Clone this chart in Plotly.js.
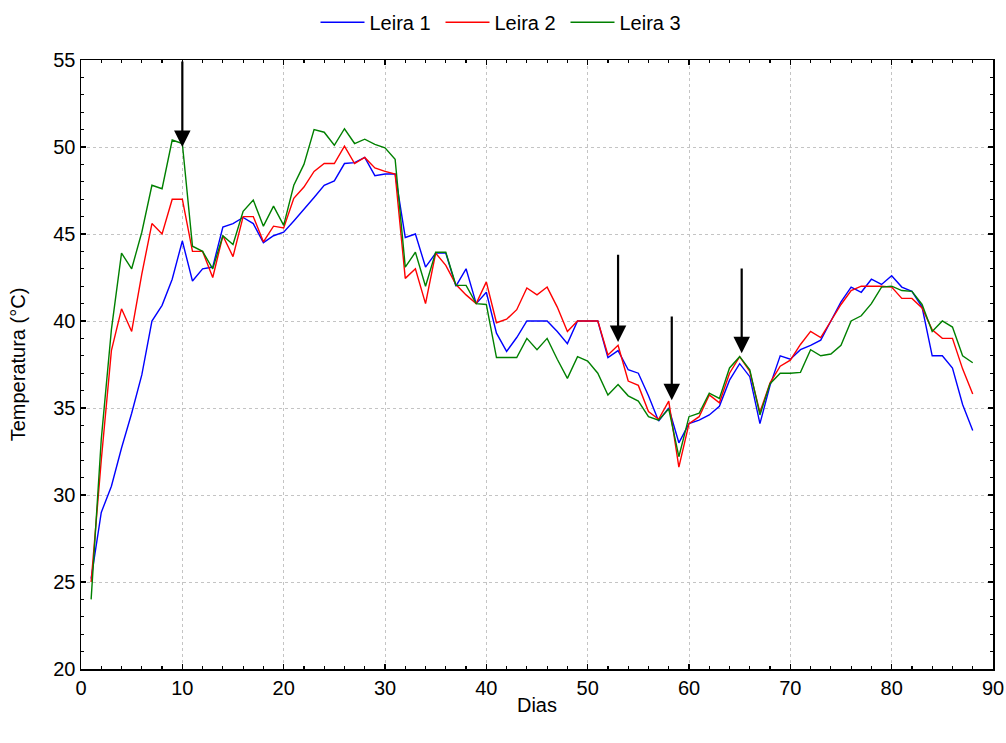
<!DOCTYPE html>
<html>
<head>
<meta charset="utf-8">
<script src="https://cdn.plot.ly/plotly-3.0.1.min.js"></script>
<style>html,body{margin:0;padding:0;background:#fff;}#chart{width:1006px;height:743px;}</style>
</head>
<body>
<div id="chart"></div>
<script>
// Days (x axis)
const dias = [1,2,3,4,5,6,7,8,9,10,11,12,13,14,15,16,17,18,19,20,21,22,23,24,25,26,27,28,29,30,
  31,32,33,34,35,36,37,38,39,40,41,42,43,44,45,46,47,48,49,50,51,52,53,54,55,56,57,58,59,60,
  61,62,63,64,65,66,67,68,69,70,71,72,73,74,75,76,77,78,79,80,81,82,83,84,85,86,87,88];

// Leira 1 temperatures (°C)
const leira1 = [25.2,29.0,30.5,32.7,34.7,36.9,40.0,40.9,42.4,44.6,42.3,43.0,43.1,45.4,45.6,45.95,45.6,44.5,44.9,45.1,
  45.75,46.4,47.1,47.8,48.05,49.05,49.1,49.4,48.35,48.45,48.45,44.8,45.0,43.1,43.9,43.9,42.0,43.0,41.0,41.65,
  39.3,38.25,39.05,40.0,40.0,40.0,39.4,38.7,40.0,40.0,40.0,37.9,38.3,37.2,37.0,35.7,34.25,35.0,33.0,34.1,
  34.3,34.6,35.1,36.6,37.55,36.8,34.1,36.3,38.0,37.8,38.35,38.6,38.9,40.0,41.1,41.95,41.65,42.4,42.1,42.6,
  41.95,41.7,40.8,38.0,38.0,37.3,35.2,33.7];

// Leira 2 temperatures (°C)
const leira2 = [25.0,32.0,38.3,40.7,39.4,42.7,45.6,45.0,47.0,47.0,44.0,44.0,42.5,44.9,43.7,46.0,46.0,44.55,45.45,45.35,
  47.05,47.7,48.6,49.05,49.05,50.05,49.05,49.4,48.8,48.6,48.45,42.45,43.0,41.0,43.9,43.2,42.1,41.5,41.0,42.25,
  39.9,40.1,40.65,41.9,41.5,41.95,40.8,39.4,40.0,40.0,40.0,38.05,38.6,36.55,36.3,34.8,34.35,35.4,31.6,34.1,
  34.5,35.75,35.3,37.0,37.95,37.1,34.75,36.45,37.4,37.75,38.65,39.4,39.05,40.0,40.95,41.75,42.0,42.0,42.0,41.95,
  41.3,41.3,40.75,39.5,39.0,39.0,37.25,35.8];

// Leira 3 temperatures (°C)
const leira3 = [24.0,33.2,39.5,43.9,43.0,45.1,47.8,47.6,50.4,50.2,44.3,44.0,43.0,44.9,44.4,46.3,46.95,45.45,46.6,45.5,
  47.8,49.0,51.0,50.85,50.1,51.05,50.2,50.45,50.15,49.95,49.3,43.1,43.95,42.0,43.95,43.95,42.05,42.05,41.0,40.95,
  37.9,37.9,37.9,39.0,38.35,39.0,37.8,36.7,37.95,37.7,37.0,35.75,36.35,35.7,35.4,34.5,34.3,34.95,32.2,34.5,
  34.7,35.85,35.55,37.3,37.95,37.2,34.6,36.4,37.0,37.0,37.05,38.35,38.0,38.1,38.6,40.0,40.3,41.0,41.95,42.0,
  41.75,41.7,40.95,39.4,40.0,39.65,38.0,37.6];

// Arrows marking events: day, tail temperature, tip temperature
const arrowDays = [10, 53, 58.3, 65.2];
const arrowTail = [55, 43.9, 40.35, 43.1];
const arrowTip  = [50.0, 38.8, 35.45, 38.15];

const seriesNames = ['Leira 1', 'Leira 2', 'Leira 3'];
const seriesData = [leira1, leira2, leira3];
const seriesColors = ['#0000ff', '#ff0000', '#008000'];

const FONT = '"Liberation Sans", Arial, sans-serif';
const FS = 20;

const traces = seriesData.map((ys, i) => ({
  x: dias, y: ys, type: 'scatter', mode: 'lines', name: seriesNames[i],
  line: {color: seriesColors[i], width: 1.4}
}));

const annotations = arrowDays.map((d, i) => ({
  x: d, y: arrowTip[i], ax: d, ay: arrowTail[i],
  xref: 'x', yref: 'y', axref: 'x', ayref: 'y',
  text: '', showarrow: true, arrowhead: 2, arrowsize: 1.5, arrowwidth: 2.2,
  arrowcolor: '#000', standoff: 0
}));

const axisCommon = {
  showline: true, linecolor: '#000', linewidth: 1.5, mirror: 'allticks',
  ticks: 'inside', ticklen: 5, tickcolor: '#000', tickwidth: 1.2,
  showgrid: true, gridcolor: '#c4c4c4', griddash: 'dot', gridwidth: 1,
  zeroline: false, tickfont: {family: FONT, size: FS, color: '#000'}
};

const layout = {
  width: 1006, height: 743,
  paper_bgcolor: '#fff', plot_bgcolor: '#fff',
  margin: {l: 81, r: 13, t: 60, b: 74, autoexpand: false},
  font: {family: FONT, size: FS, color: '#000'},
  showlegend: true,
  legend: {orientation: 'h', xref: 'container', x: 0.5, xanchor: 'center',
           yref: 'container', y: 0.970, yanchor: 'middle',
           itemwidth: 44, entrywidth: 66,
           font: {family: FONT, size: FS, color: '#000'}, bgcolor: 'rgba(0,0,0,0)'},
  xaxis: Object.assign({}, axisCommon, {
    range: [0, 90], dtick: 10, tick0: 0,
    minor: {dtick: 2, ticks: 'inside', ticklen: 3, tickcolor: '#000', showgrid: false},
    title: {text: 'Dias', font: {family: FONT, size: FS, color: '#000'}, standoff: 0}
  }),
  yaxis: Object.assign({}, axisCommon, {
    range: [20, 55], dtick: 5, tick0: 20,
    minor: {dtick: 1, ticks: 'inside', ticklen: 3, tickcolor: '#000', showgrid: false},
    title: {text: 'Temperatura (°C)', font: {family: FONT, size: FS, color: '#000'}, standoff: 22}
  }),
  annotations: annotations
};

Plotly.newPlot('chart', traces, layout, {displayModeBar: false, staticPlot: true});
</script>
</body>
</html>
